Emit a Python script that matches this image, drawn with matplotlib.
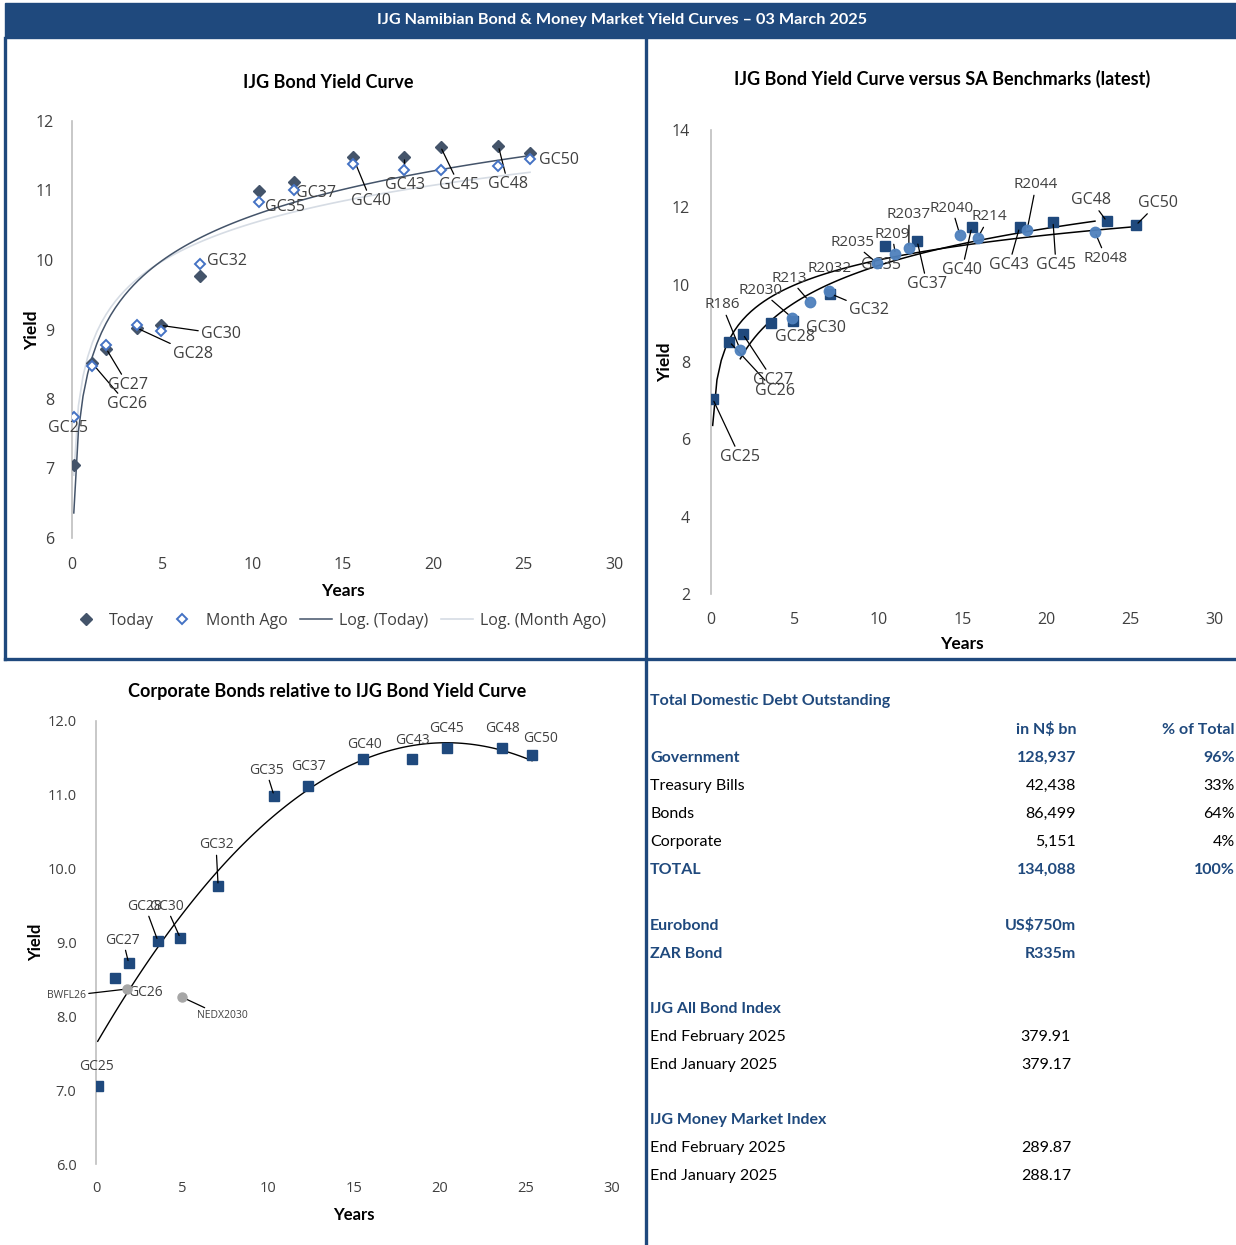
import numpy as np
import matplotlib
matplotlib.use("Agg")
import matplotlib.pyplot as plt
from matplotlib.lines import Line2D
from matplotlib.patches import Rectangle

W, H = 1236, 1245
NAVY = "#1F497D"
SLATE = "#44546A"
TXT = "#404040"

# IJG (Namibian) government bond curve
gc_names = ["GC25", "GC26", "GC27", "GC28", "GC30", "GC32", "GC35",
            "GC37", "GC40", "GC43", "GC45", "GC48", "GC50"]
gc_years = [0.1, 1.1, 1.9, 3.6, 4.9, 7.1, 10.35, 12.3, 15.55, 18.4, 20.4, 23.6, 25.35]
gc_today = [7.05, 8.52, 8.72, 9.02, 9.06, 9.77, 10.99, 11.12, 11.48, 11.48, 11.63, 11.64, 11.54]
gc_month_ago = [7.74, 8.47, 8.78, 9.06, 8.98, 9.94, 10.83, 11.01, 11.38, 11.29, 11.29, 11.35, 11.45]

# SA benchmark bonds
sa_names = ["R186", "R2030", "R213", "R2032", "R2035", "R209", "R2037",
            "R2040", "R214", "R2044", "R2048"]
sa_years = [1.75, 4.85, 5.9, 7.05, 9.9, 11.0, 11.8, 14.85, 15.9, 18.85, 22.9]
sa_yield = [8.31, 9.14, 9.55, 9.84, 10.56, 10.79, 10.95, 11.28, 11.2, 11.41, 11.36]

# corporate bonds
corp_names = ["BWFL26", "NEDX2030"]
corp_years = [1.8, 5.0]
corp_yield = [8.37, 8.26]

# table
debt_rows = [("Government", "128,937", "96%", True),
             ("Treasury Bills", "42,438", "33%", False),
             ("Bonds", "86,499", "64%", False),
             ("Corporate", "5,151", "4%", False),
             ("TOTAL", "134,088", "100%", True)]
foreign = [("Eurobond", "US$750m"), ("ZAR Bond", "R335m")]
all_bond_index = [("End February 2025", "379.91"), ("End January 2025", "379.17")]
money_market_index = [("End February 2025", "289.87"), ("End January 2025", "288.17")]

plt.rcParams['font.family'] = ['Open Sans', 'DejaVu Sans']

fig = plt.figure(figsize=(W / 100, H / 100), dpi=100)


def fx(x):
    return x / W


def fy(y):
    return 1 - y / H


def make_axes(x0, x1, y0, y1):
    ax = fig.add_axes([fx(x0), fy(y1), fx(x1 - x0), (y1 - y0) / H])
    for s in ["top", "right", "bottom"]:
        ax.spines[s].set_visible(False)
    ax.spines["left"].set_color("#BFBFBF")
    ax.spines["left"].set_linewidth(1.2)
    ax.tick_params(length=0, colors=TXT)
    return ax


def label(ax, text, xy, X, Y, ha="center", leader=False, size=11.5):
    kw = {}
    if leader:
        kw["arrowprops"] = dict(arrowstyle="-", color="black", lw=0.9,
                                shrinkA=0, shrinkB=2)
    ax.annotate(text, xy=xy, xytext=(X, H - Y), textcoords="figure pixels",
                ha=ha, va="center", fontsize=size, color=TXT, **kw)


def log_fit(x, y, n=100):
    a, b = np.polyfit(np.log(x), y, 1)
    xs = np.linspace(min(x), max(x), n)
    return xs, a * np.log(xs) + b


# header bar
fig.patches.append(Rectangle((fx(5), fy(38)), fx(1231), 35 / H, transform=fig.transFigure,
                             color=NAVY, zorder=0))
fig.text(fx(622), fy(20), "IJG Namibian Bond & Money Market Yield Curves \u2013 03 March 2025",
         ha="center", va="center", color="white", fontsize=11.7, fontweight="bold", family="Lato")

# panel borders
for (xa, ya, xb, yb) in [(5, 38, 5, 659), (646, 38, 646, 1245), (5, 659, 1236, 659)]:
    fig.add_artist(Line2D([fx(xa), fx(xb)], [fy(ya), fy(yb)], color=NAVY, lw=2.4,
                          transform=fig.transFigure))

# ---------- top left: IJG Bond Yield Curve ----------
ax1 = make_axes(72, 614, 121, 538)
ax1.set_xlim(0, 30)
ax1.set_ylim(6, 12)
ax1.set_xticks(range(0, 31, 5))
ax1.set_yticks(range(6, 13))
ax1.tick_params(labelsize=11.5, pad=13)
ax1.tick_params(axis="x", pad=14)
xs, ys = log_fit(gc_years, gc_month_ago)
ax1.plot(xs, ys, color="#D6DCE4", lw=1.2, zorder=2)
xs, ys = log_fit(gc_years, gc_today)
ax1.plot(xs, ys, color=SLATE, lw=1.1, zorder=2)
ax1.plot(gc_years, gc_today, "D", color=SLATE, ms=6.5, ls="none", zorder=3)
ax1.plot(gc_years, gc_month_ago, "D", mfc="white", mec="#4472C4", mew=1.4, ms=5,
         ls="none", zorder=4)

tl_labels = {"GC25": (68, 428, "center", False), "GC26": (127, 404, "center", True),
             "GC27": (128, 385, "center", True), "GC28": (193, 354, "center", True),
             "GC30": (221, 334, "center", True), "GC32": (227, 261, "center", False),
             "GC35": (285, 207, "center", False), "GC37": (316, 193, "center", False),
             "GC40": (371, 201, "center", True), "GC43": (405, 185, "center", True),
             "GC45": (459, 185, "center", True), "GC48": (508, 184, "center", True),
             "GC50": (559, 160, "center", False)}
for n, x, y in zip(gc_names, gc_years, gc_today):
    X, Y, ha, ld = tl_labels[n]
    label(ax1, n, (x, y), X, Y, ha, ld)

fig.text(fx(328), fy(82), "IJG Bond Yield Curve", ha="center", va="center",
         fontsize=13, fontweight="bold", family="Lato", color="black")
fig.text(fx(343), fy(591), "Years", ha="center", va="center",
         fontsize=12.5, fontweight="bold", family="Lato", color="black")
fig.text(fx(32), fy(330), "Yield", ha="center", va="center", rotation=90,
         fontsize=12.5, fontweight="bold", family="Lato", color="black")

handles = [Line2D([], [], marker="D", color=SLATE, ls="none", ms=6.5),
           Line2D([], [], marker="D", mfc="white", mec="#4472C4", mew=1.4, ms=5, ls="none"),
           Line2D([], [], color=SLATE, lw=1.1),
           Line2D([], [], color="#D6DCE4", lw=1.2)]
fig.legend(handles, ["Today", "Month Ago", "Log. (Today)", "Log. (Month Ago)"],
           loc="center", bbox_to_anchor=(fx(338), fy(621)), ncol=4, frameon=False,
           fontsize=11.5, handlelength=2.0, columnspacing=0.8, handletextpad=0.45,
           labelcolor=TXT)

# ---------- top right: versus SA benchmarks ----------
ax2 = make_axes(711, 1214, 130, 594)
ax2.set_xlim(0, 30)
ax2.set_ylim(2, 14)
ax2.set_xticks(range(0, 31, 5))
ax2.set_yticks(range(2, 15, 2))
ax2.tick_params(labelsize=11.5, pad=15)
ax2.tick_params(axis="x", pad=13)
xs, ys = log_fit(gc_years, gc_today)
ax2.plot(xs, ys, color="black", lw=1.1, zorder=2)
xs, ys = log_fit(sa_years, sa_yield)
ax2.plot(xs, ys, color="black", lw=1.1, zorder=2)
ax2.plot(gc_years, gc_today, "s", color=NAVY, ms=7, ls="none", zorder=3)
ax2.plot(sa_years, sa_yield, "o", color="#4F81BD", ms=7.5, ls="none", zorder=4, alpha=0.95)

tr_gc = {"GC25": (740, 457, True), "GC26": (775, 391, True), "GC27": (773, 380, True),
         "GC28": (795, 337, False), "GC30": (826, 328, False), "GC32": (869, 310, True),
         "GC35": (881, 265, False), "GC37": (927, 284, True), "GC40": (962, 270, True),
         "GC43": (1009, 265, True), "GC45": (1056, 265, True), "GC48": (1091, 200, True),
         "GC50": (1158, 203, True)}
for n, x, y in zip(gc_names, gc_years, gc_today):
    X, Y, ld = tr_gc[n]
    label(ax2, n, (x, y), X, Y, "center", ld)
tr_sa = {"R186": (722, 305, True), "R2030": (760, 290, True), "R213": (789, 278, True),
         "R2032": (830, 268, False), "R2035": (852, 242, True), "R209": (892, 234, True),
         "R2037": (909, 215, True), "R2040": (952, 208, True), "R214": (989, 217, True),
         "R2044": (1036, 185, True), "R2048": (1106, 258, True)}
for n, x, y in zip(sa_names, sa_years, sa_yield):
    X, Y, ld = tr_sa[n]
    label(ax2, n, (x, y), X, Y, "center", ld, size=11)

fig.text(fx(942), fy(79), "IJG Bond Yield Curve versus SA Benchmarks (latest)", ha="center",
         va="center", fontsize=13, fontweight="bold", family="Lato", color="black")
fig.text(fx(962), fy(644), "Years", ha="center", va="center",
         fontsize=12.5, fontweight="bold", family="Lato", color="black")
fig.text(fx(665), fy(362), "Yield", ha="center", va="center", rotation=90,
         fontsize=12.5, fontweight="bold", family="Lato", color="black")

# ---------- bottom left: corporate bonds ----------
ax3 = make_axes(96, 612, 721, 1164)
ax3.set_xlim(0, 30)
ax3.set_ylim(6, 12)
ax3.set_xticks(range(0, 31, 5))
ax3.set_yticks(range(6, 13))
ax3.set_yticklabels([f"{v:.1f}" for v in range(6, 13)])
ax3.tick_params(labelsize=10.5, pad=14)
ax3.tick_params(axis="x", pad=12)
c = np.polyfit(gc_years, gc_today, 2)
xs = np.linspace(min(gc_years), max(gc_years), 100)
ax3.plot(xs, np.polyval(c, xs), color="black", lw=1.0, zorder=2)
ax3.plot(gc_years, gc_today, "s", color=NAVY, ms=7, ls="none", zorder=3)
ax3.plot(corp_years, corp_yield, "o", color="#A6A6A6", ms=6.5, ls="none", zorder=4)

bl_gc = {"GC25": (97, 1066, False), "GC26": (145, 992, False), "GC27": (123, 940, True),
         "GC28": (145, 906, True), "GC30": (166, 906, True), "GC32": (216, 845, True),
         "GC35": (266, 770, True), "GC37": (308, 767, False), "GC40": (364, 744, False),
         "GC43": (412, 740, False), "GC45": (446, 729, False), "GC48": (502, 728, False),
         "GC50": (541, 739, False)}
for n, x, y in zip(gc_names, gc_years, gc_today):
    X, Y, ld = bl_gc[n]
    label(ax3, n, (x, y), X, Y, "center", ld, size=10)
label(ax3, corp_names[0], (corp_years[0], corp_yield[0]), 86, 996, "right", True, size=7.5)
label(ax3, corp_names[1], (corp_years[1], corp_yield[1]), 197, 1016, "left", True, size=7.5)

fig.text(fx(327), fy(691), "Corporate Bonds relative to IJG Bond Yield Curve", ha="center",
         va="center", fontsize=13, fontweight="bold", family="Lato", color="black")
fig.text(fx(354), fy(1215), "Years", ha="center", va="center",
         fontsize=12, fontweight="bold", family="Lato", color="black")
fig.text(fx(36), fy(942), "Yield", ha="center", va="center", rotation=90,
         fontsize=12, fontweight="bold", family="Lato", color="black")

# ---------- bottom right: debt table ----------
def trow(y, left, mid=None, right=None, bold=False, mid_x=1076, size=11.5):
    col = NAVY if bold else "black"
    wt = "bold" if bold else "normal"
    fig.text(fx(650), fy(y), left, ha="left", va="center", color=col,
             fontweight=wt, fontsize=size, family="Lato")
    if mid is not None:
        fig.text(fx(mid_x), fy(y), mid, ha="right", va="center", color=col,
                 fontweight=wt, fontsize=size, family="Lato")
    if right is not None:
        fig.text(fx(1235), fy(y), right, ha="right", va="center", color=col,
                 fontweight=wt, fontsize=size, family="Lato")


trow(701, "Total Domestic Debt Outstanding", bold=True)
trow(730, "", "in N$ bn", "% of Total", bold=True)
for i, (name, amt, pct, b) in enumerate(debt_rows):
    trow(758 + 28 * i, name, amt, pct, bold=b)
for i, (name, amt) in enumerate(foreign):
    trow(926 + 28 * i, name, amt, bold=True)
trow(1009, "IJG All Bond Index", bold=True)
for i, (name, v) in enumerate(all_bond_index):
    trow(1037 + 28 * i, name, v, mid_x=1071)
trow(1120, "IJG Money Market Index", bold=True)
for i, (name, v) in enumerate(money_market_index):
    trow(1148 + 28 * i, name, v, mid_x=1071)

fig.savefig("out.png", dpi=100)
